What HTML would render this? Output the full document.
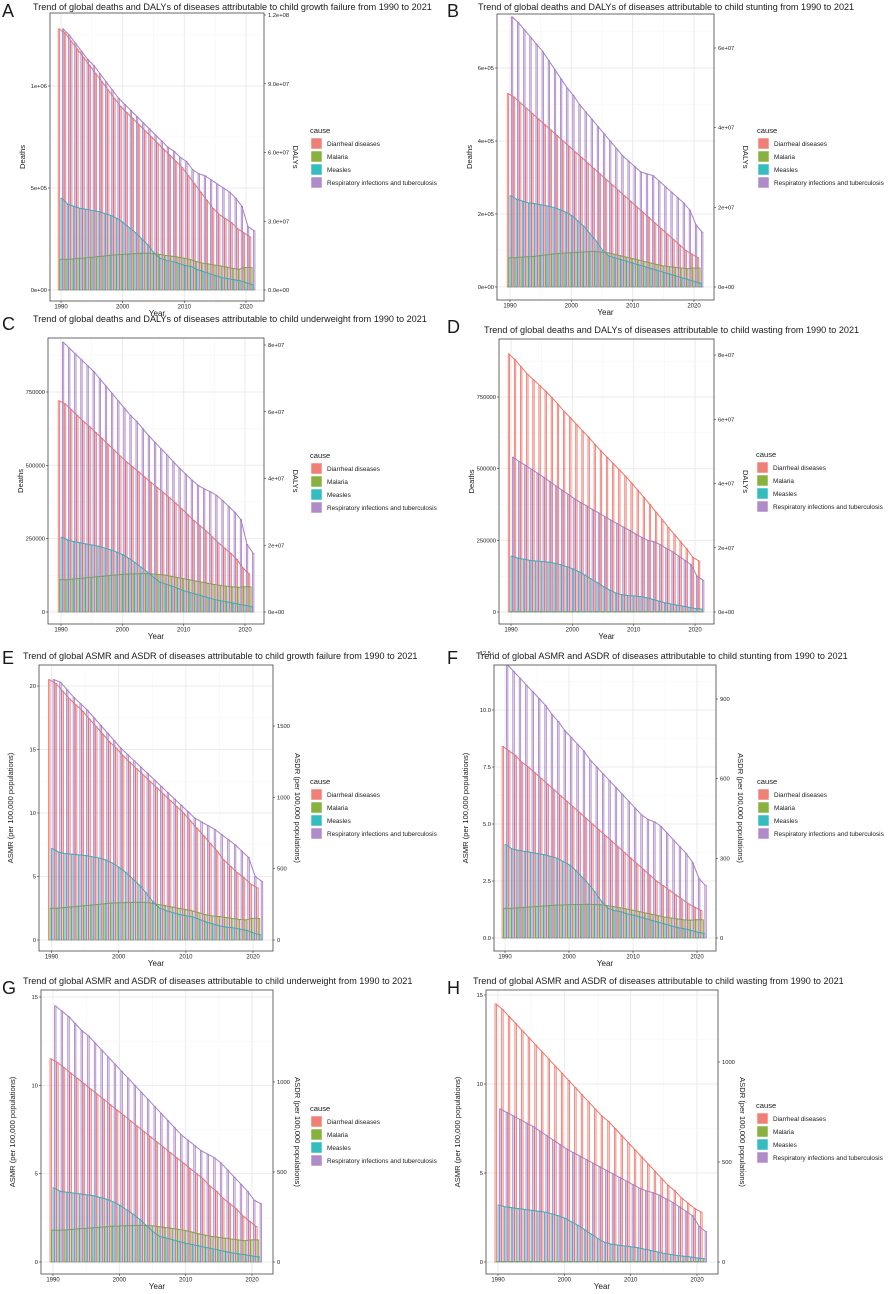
<!DOCTYPE html>
<html><head><meta charset="utf-8"><style>
html,body{margin:0;padding:0;background:#fff;}
svg{display:block;font-family:"Liberation Sans",sans-serif;}
</style></head><body>
<svg id="fig" width="890" height="1294" viewBox="0 0 890 1294"></svg>
<script>
const years=[1990,1991,1992,1993,1994,1995,1996,1997,1998,1999,2000,2001,2002,2003,2004,2005,2006,2007,2008,2009,2010,2011,2012,2013,2014,2015,2016,2017,2018,2019,2020,2021];
const causes=["Diarrheal diseases","Malaria","Measles","Respiratory infections and tuberculosis"];
const colors=["#EE7268","#7CA82A","#1FB5B8","#A67EC4"];
const xTicks=[1990,2000,2010,2020];
// Panel A (deaths, x1e5)
const aDiarrheal=[12.8,12.6,12.2,11.8,11.4,11.0,10.6,10.2,9.8,9.4,9.0,8.7,8.4,8.1,7.8,7.5,7.2,6.9,6.6,6.3,6.0,5.6,5.2,4.8,4.4,4.0,3.7,3.5,3.3,3.0,2.8,2.6];
const aMalaria=[1.5,1.5,1.52,1.55,1.57,1.6,1.63,1.66,1.7,1.72,1.74,1.76,1.78,1.8,1.8,1.78,1.75,1.7,1.66,1.62,1.56,1.5,1.4,1.32,1.28,1.22,1.18,1.12,1.06,1.02,1.1,1.1];
const aMeasles=[4.5,4.2,4.1,4.0,3.95,3.9,3.85,3.75,3.65,3.5,3.3,3.05,2.8,2.5,2.2,1.8,1.55,1.45,1.4,1.3,1.2,1.15,1.0,0.9,0.8,0.7,0.6,0.55,0.5,0.45,0.35,0.25];
const aRespiratory=[12.8,12.5,12.1,11.7,11.3,11.0,10.6,10.2,9.8,9.4,9.1,8.8,8.5,8.2,7.9,7.6,7.3,7.0,6.8,6.5,6.3,5.9,5.7,5.6,5.4,5.2,5.0,4.8,4.5,4.1,3.1,2.9];
// Panel B (deaths, x1e5)
const bDiarrheal=[5.3,5.2,5.05,4.9,4.75,4.6,4.45,4.3,4.15,4.0,3.85,3.7,3.55,3.4,3.25,3.1,2.95,2.8,2.65,2.5,2.35,2.2,2.05,1.9,1.75,1.6,1.45,1.3,1.15,1.0,0.9,0.8];
const bMalaria=[0.8,0.8,0.82,0.83,0.84,0.86,0.88,0.9,0.92,0.93,0.94,0.95,0.96,0.97,0.97,0.96,0.94,0.9,0.86,0.82,0.78,0.74,0.7,0.66,0.62,0.58,0.56,0.54,0.52,0.5,0.52,0.52];
const bMeasles=[2.5,2.4,2.35,2.3,2.28,2.25,2.22,2.18,2.12,2.05,1.95,1.8,1.65,1.45,1.25,1.0,0.85,0.8,0.75,0.7,0.65,0.6,0.55,0.5,0.45,0.4,0.35,0.3,0.25,0.2,0.15,0.1];
const bRespiratory=[7.4,7.25,7.05,6.85,6.65,6.45,6.2,5.95,5.7,5.45,5.25,5.0,4.8,4.6,4.4,4.2,4.0,3.8,3.6,3.45,3.3,3.15,3.1,3.05,2.9,2.75,2.6,2.45,2.3,2.1,1.7,1.5];
// Panel C (deaths, thousands)
const cDiarrheal=[720,710,690,670,650,632,612,592,572,552,532,512,495,478,460,442,425,408,390,372,352,332,312,294,276,256,236,218,200,180,150,130];
const cMalaria=[110,110,112,114,116,118,120,122,124,126,128,129,130,131,131,130,128,126,122,118,114,110,106,102,98,94,91,88,86,84,86,86];
const cMeasles=[255,245,240,236,232,228,224,218,212,204,195,182,168,152,136,118,102,95,88,80,72,66,60,54,48,42,38,34,30,26,22,18];
const cRespiratory=[920,900,880,860,840,820,795,770,745,720,695,670,650,625,600,578,556,535,512,490,470,450,432,420,410,398,380,360,340,315,230,200];
// Panel D (deaths, thousands)
const dDiarrheal=[900,880,855,830,810,790,770,748,725,700,678,655,632,610,585,562,540,518,496,474,450,425,400,375,348,322,295,270,245,220,190,178];
const dMalaria=[1,1,1,1,1,1,1,1,1,1,1,1,1,1,1,1,1,1,1,1,1,1,1,1,1,1,1,1,1,1,1,1];
const dMeasles=[195,188,184,180,178,176,174,170,165,158,150,140,128,115,102,88,76,66,60,57,56,54,50,44,38,32,28,24,20,16,12,10];
const dRespiratory=[540,525,512,498,484,470,455,440,425,410,395,382,370,357,345,332,320,308,296,285,272,260,250,245,235,222,210,195,180,165,125,110];
// Panel E (ASMR)
const eDiarrheal=[20.5,20.2,19.6,19.0,18.5,18.0,17.4,16.8,16.2,15.6,15.1,14.5,14.0,13.5,13.0,12.5,12.0,11.5,11.0,10.5,10.0,9.4,8.8,8.2,7.6,7.0,6.3,5.8,5.3,4.9,4.4,4.1];
const eMalaria=[2.5,2.5,2.55,2.6,2.65,2.7,2.75,2.8,2.85,2.9,2.92,2.94,2.95,2.96,2.96,2.9,2.8,2.7,2.6,2.5,2.4,2.3,2.15,2.0,1.9,1.85,1.78,1.7,1.62,1.58,1.7,1.7];
const eMeasles=[7.2,6.9,6.8,6.75,6.7,6.65,6.55,6.45,6.3,6.05,5.7,5.3,4.8,4.3,3.7,3.0,2.5,2.3,2.15,2.0,1.9,1.8,1.6,1.4,1.25,1.1,1.0,0.95,0.85,0.75,0.55,0.4];
const eRespiratory=[20.5,20.3,19.7,19.1,18.6,18.1,17.5,16.9,16.3,15.7,15.1,14.6,14.1,13.6,13.1,12.6,12.1,11.6,11.1,10.6,10.1,9.6,9.3,9.0,8.7,8.3,7.9,7.5,7.0,6.5,5.0,4.6];
// Panel F (ASMR)
const fDiarrheal=[8.4,8.2,8.0,7.7,7.5,7.25,7.0,6.75,6.5,6.25,6.0,5.75,5.5,5.25,5.0,4.75,4.5,4.25,4.0,3.75,3.5,3.25,3.0,2.75,2.5,2.3,2.1,1.9,1.7,1.5,1.35,1.2];
const fMalaria=[1.3,1.3,1.32,1.34,1.36,1.38,1.4,1.42,1.44,1.45,1.46,1.47,1.47,1.48,1.47,1.46,1.42,1.38,1.33,1.28,1.22,1.16,1.1,1.04,0.98,0.92,0.88,0.84,0.8,0.78,0.8,0.8];
const fMeasles=[4.1,3.9,3.85,3.8,3.75,3.7,3.65,3.58,3.5,3.35,3.2,2.95,2.65,2.35,2.0,1.6,1.3,1.2,1.15,1.05,1.0,0.92,0.84,0.76,0.68,0.6,0.52,0.45,0.4,0.33,0.25,0.2];
const fRespiratory=[12.0,11.7,11.4,11.1,10.8,10.5,10.2,9.8,9.5,9.1,8.8,8.5,8.2,7.8,7.5,7.2,6.9,6.6,6.3,6.0,5.7,5.4,5.2,5.1,4.9,4.6,4.3,4.0,3.7,3.3,2.6,2.3];
// Panel G (ASMR)
const gDiarrheal=[11.5,11.3,11.0,10.7,10.4,10.1,9.8,9.5,9.2,8.9,8.6,8.3,8.0,7.7,7.4,7.1,6.8,6.5,6.2,5.9,5.6,5.3,5.0,4.7,4.3,4.0,3.6,3.3,3.0,2.6,2.3,2.0];
const gMalaria=[1.8,1.8,1.82,1.85,1.88,1.9,1.93,1.96,1.99,2.02,2.04,2.05,2.06,2.07,2.07,2.05,2.0,1.95,1.9,1.85,1.78,1.7,1.6,1.52,1.45,1.4,1.35,1.3,1.25,1.2,1.25,1.25];
const gMeasles=[4.2,4.0,3.95,3.9,3.85,3.8,3.75,3.65,3.55,3.4,3.2,2.95,2.7,2.4,2.05,1.7,1.45,1.35,1.25,1.15,1.05,0.98,0.9,0.82,0.74,0.66,0.58,0.5,0.45,0.4,0.33,0.28];
const gRespiratory=[14.5,14.2,13.9,13.5,13.1,12.8,12.4,12.0,11.6,11.2,10.8,10.4,10.0,9.6,9.2,8.8,8.4,8.0,7.6,7.2,6.9,6.6,6.3,6.1,5.9,5.6,5.2,4.8,4.4,4.0,3.5,3.3];
// Panel H (ASMR)
const hDiarrheal=[14.5,14.2,13.8,13.4,13.0,12.6,12.2,11.8,11.4,11.0,10.6,10.2,9.8,9.4,9.0,8.6,8.2,7.9,7.5,7.1,6.7,6.3,5.9,5.5,5.1,4.7,4.3,4.0,3.6,3.3,3.0,2.8];
const hMalaria=[0.02,0.02,0.02,0.02,0.02,0.02,0.02,0.02,0.02,0.02,0.02,0.02,0.02,0.02,0.02,0.02,0.02,0.02,0.02,0.02,0.02,0.02,0.02,0.02,0.02,0.02,0.02,0.02,0.02,0.02,0.02,0.02];
const hMeasles=[3.2,3.1,3.05,3.0,2.95,2.9,2.85,2.8,2.7,2.6,2.45,2.25,2.05,1.8,1.55,1.3,1.1,1.0,0.95,0.9,0.85,0.8,0.72,0.64,0.56,0.48,0.42,0.36,0.32,0.28,0.22,0.18];
const hRespiratory=[8.6,8.4,8.2,8.0,7.8,7.6,7.35,7.1,6.85,6.6,6.35,6.15,5.95,5.75,5.55,5.35,5.15,4.95,4.75,4.55,4.35,4.15,4.0,3.9,3.75,3.55,3.35,3.1,2.85,2.6,2.0,1.7];
// tick values / labels
const aLeftTicks=[0,5,10], aLeftLabels=["0e+00","5e+05","1e+06"];
const aRightTicks=[0,3,6,9,12], aRightLabels=["0.0e+00","3.0e+07","6.0e+07","9.0e+07","1.2e+08"];
const bLeftTicks=[0,2,4,6], bLeftLabels=["0e+00","2e+05","4e+05","6e+05"];
const bRightTicks=[0,2,4,6], bRightLabels=["0e+00","2e+07","4e+07","6e+07"];
const cLeftTicks=[0,250,500,750], cLeftLabels=["0","250000","500000","750000"];
const cRightTicks=[0,2,4,6,8], cRightLabels=["0e+00","2e+07","4e+07","6e+07","8e+07"];
const dLeftTicks=[0,250,500,750], dLeftLabels=["0","250000","500000","750000"];
const dRightTicks=[0,2,4,6,8], dRightLabels=["0e+00","2e+07","4e+07","6e+07","8e+07"];
const eLeftTicks=[0,5,10,15,20], eLeftLabels=["0","5","10","15","20"];
const eRightTicks=[0,500,1000,1500], eRightLabels=["0","500","1000","1500"];
const fLeftTicks=[0,2.5,5,7.5,10,12.5], fLeftLabels=["0.0","2.5","5.0","7.5","10.0","12.5"];
const fRightTicks=[0,300,600,900], fRightLabels=["0","300","600","900"];
const gLeftTicks=[0,5,10,15], gLeftLabels=["0","5","10","15"];
const gRightTicks=[0,500,1000], gRightLabels=["0","500","1000"];
const hLeftTicks=[0,5,10,15], hLeftLabels=["0","5","10","15"];
const hRightTicks=[0,500,1000], hRightLabels=["0","500","1000"];

const NS="http://www.w3.org/2000/svg";
const svg=document.getElementById("fig");
function mk(tag,attrs,parent){const e=document.createElementNS(NS,tag);for(const k in attrs)e.setAttribute(k,attrs[k]);(parent||svg).appendChild(e);return e;}
function txt(x,y,s,size,anchor,parent,rot){const t=mk("text",{x:x,y:y,"font-size":size,"text-anchor":anchor||"start",fill:"#1a1a1a"},parent);if(rot)t.setAttribute("transform",`rotate(${rot} ${x} ${y})`);t.textContent=s;return t;}

const panels=[
{id:"a",letter:"A",lx:2,ly:17,tx:33,ty:10,title:"Trend of global deaths and DALYs of diseases attributable to child growth failure from 1990 to 2021",
 L:50,R:264,T:13,B:301,x0:61,x1:246,y0:290,refV:10,refY:86,rRefV:12,rRefY:15,lt:aLeftTicks,ll:aLeftLabels,rt:aRightTicks,rl:aRightLabels,
 yl:"Deaths",y2:"DALYs",legX:310,legY:130,data:[aDiarrheal,aMalaria,aMeasles,aRespiratory]},
{id:"b",letter:"B",lx:447,ly:17,tx:478,ty:10,title:"Trend of global deaths and DALYs of diseases attributable to child stunting from 1990 to 2021",
 L:497,R:714,T:14,B:300,x0:510,x1:694,y0:287,refV:6,refY:68,rRefV:6,rRefY:48,lt:bLeftTicks,ll:bLeftLabels,rt:bRightTicks,rl:bRightLabels,
 yl:"Deaths",y2:"DALYs",legX:757,legY:130,data:[bDiarrheal,bMalaria,bMeasles,bRespiratory]},
{id:"c",letter:"C",lx:2,ly:330,tx:33,ty:322,title:"Trend of global deaths and DALYs of diseases attributable to child underweight from 1990 to 2021",
 L:48,R:264,T:338,B:624,x0:61,x1:245,y0:612,refV:750,refY:392,rRefV:8,rRefY:345,lt:cLeftTicks,ll:cLeftLabels,rt:cRightTicks,rl:cRightLabels,
 yl:"Deaths",y2:"DALYs",legX:310,legY:455,data:[cDiarrheal,cMalaria,cMeasles,cRespiratory]},
{id:"d",letter:"D",lx:447,ly:333,tx:484,ty:333,title:"Trend of global deaths and DALYs of diseases attributable to child wasting from 1990 to 2021",
 L:499,R:714,T:339,B:624,x0:511,x1:695,y0:612,refV:750,refY:397,rRefV:8,rRefY:355,lt:dLeftTicks,ll:dLeftLabels,rt:dRightTicks,rl:dRightLabels,
 yl:"Deaths",y2:"DALYs",legX:756,legY:454,data:[dDiarrheal,dMalaria,dMeasles,dRespiratory]},
{id:"e",letter:"E",lx:2,ly:664,tx:23,ty:659,title:"Trend of global ASMR and ASDR of diseases attributable to child growth failure from 1990 to 2021",
 L:39,R:273,T:665,B:951,x0:51.5,x1:253,y0:940,refV:20,refY:686,rRefV:1500,rRefY:726,lt:eLeftTicks,ll:eLeftLabels,rt:eRightTicks,rl:eRightLabels,
 yl:"ASMR (per 100,000 populations)",y2:"ASDR (per 100,000 populations)",legX:310,legY:781,data:[eDiarrheal,eMalaria,eMeasles,eRespiratory]},
{id:"f",letter:"F",lx:447,ly:664,tx:476,ty:659,title:"Trend of global ASMR and ASDR of diseases attributable to child stunting from 1990 to 2021",
 L:494,R:716,T:665,B:951,x0:505,x1:697,y0:938,refV:12.5,refY:653,rRefV:900,rRefY:699,lt:fLeftTicks,ll:fLeftLabels,rt:fRightTicks,rl:fRightLabels,
 yl:"ASMR (per 100,000 populations)",y2:"ASDR (per 100,000 populations)",legX:757,legY:781,data:[fDiarrheal,fMalaria,fMeasles,fRespiratory]},
{id:"g",letter:"G",lx:2,ly:994,tx:23,ty:984,title:"Trend of global ASMR and ASDR of diseases attributable to child underweight from 1990 to 2021",
 L:41,R:273,T:990,B:1274,x0:53,x1:252,y0:1262,refV:15,refY:997,rRefV:1000,rRefY:1082,lt:gLeftTicks,ll:gLeftLabels,rt:gRightTicks,rl:gRightLabels,
 yl:"ASMR (per 100,000 populations)",y2:"ASDR (per 100,000 populations)",legX:310,legY:1108,data:[gDiarrheal,gMalaria,gMeasles,gRespiratory]},
{id:"h",letter:"H",lx:447,ly:994,tx:473,ty:984,title:"Trend of global ASMR and ASDR of diseases attributable to child wasting from 1990 to 2021",
 L:486,R:718,T:990,B:1274,x0:498,x1:697,y0:1262,refV:15,refY:995,rRefV:1000,rRefY:1062,lt:hLeftTicks,ll:hLeftLabels,rt:hRightTicks,rl:hRightLabels,
 yl:"ASMR (per 100,000 populations)",y2:"ASDR (per 100,000 populations)",legX:756,legY:1105,data:[hDiarrheal,hMalaria,hMeasles,hRespiratory]}
];

panels.forEach(p=>{
  const g=mk("g",{});
  
  
  const xs=yr=>p.x0+(yr-1990)*(p.x1-p.x0)/30;
  const ys=v=>p.y0-v*(p.y0-p.refY)/p.refV;
  const ys2=v=>p.y0-v*(p.y0-p.rRefY)/p.rRefV;
  const lt=txt(p.lx,p.ly,p.letter,18,"start",g);
  
  
  const tt=txt(p.tx,p.ty,p.title,9.1,"start",g);
  
  
  const cp="clip-"+p.id;
  const cl=mk("clipPath",{id:cp},g);mk("rect",{x:p.L,y:p.T,width:p.R-p.L,height:p.B-p.T},cl);
  const grid=mk("g",{"clip-path":`url(#${cp})`},g);
  
  
  xTicks.forEach((t,i)=>{
    mk("line",{x1:xs(t),x2:xs(t),y1:p.T,y2:p.B,stroke:"#ebebeb","stroke-width":1},grid);
    mk("line",{x1:xs(t+5),x2:xs(t+5),y1:p.T,y2:p.B,stroke:"#f5f5f5","stroke-width":0.6},grid);
  });
  mk("line",{x1:xs(1985),x2:xs(1985),y1:p.T,y2:p.B,stroke:"#f5f5f5","stroke-width":0.6},grid);
  const step=p.lt[1]-p.lt[0];
  p.lt.forEach(t=>{
    mk("line",{x1:p.L,x2:p.R,y1:ys(t),y2:ys(t),stroke:"#ebebeb","stroke-width":1},grid);
    mk("line",{x1:p.L,x2:p.R,y1:ys(t+step/2),y2:ys(t+step/2),stroke:"#f5f5f5","stroke-width":0.6},grid);
  });
  const bw=(p.x1-p.x0)/30*0.9/4;
  const plot=mk("g",{"clip-path":`url(#${cp})`},g);
  p.data.forEach((arr,si)=>{
    const sg=mk("g",{},plot);
    
    
    const pts=[];
    arr.forEach((v,i)=>{
      const cx=xs(years[i])-2*bw+si*bw+bw/2;
      const y=ys(v);
      const r=mk("rect",{x:cx-bw/2,y:y,width:bw,height:Math.max(0.3,p.y0-y),fill:colors[si],"fill-opacity":0.12,stroke:colors[si],"stroke-width":0.8},sg);
      
      
      pts.push(cx.toFixed(2)+","+y.toFixed(2));
    });
    const ln=mk("polyline",{points:pts.join(" "),fill:"none",stroke:colors[si],"stroke-width":1},plot);
    
    
  });
  const bd=mk("rect",{x:p.L,y:p.T,width:p.R-p.L,height:p.B-p.T,fill:"none",stroke:"#444","stroke-width":0.8},g);
  
  
  const xa=mk("g",{},g);
  
  
  xTicks.forEach(t=>{
    mk("line",{x1:xs(t),x2:xs(t),y1:p.B,y2:p.B+2,stroke:"#333","stroke-width":0.6},xa);
    txt(xs(t),p.B+7.5,String(t),6,"middle",xa);
  });
  const xt=txt((p.L+p.R)/2,p.B+15,"Year",8,"middle",g);
  
  
  const la=mk("g",{},g);
  
  
  p.lt.forEach((t,i)=>{
    mk("line",{x1:p.L-2,x2:p.L,y1:ys(t),y2:ys(t),stroke:"#333","stroke-width":0.6},la);
    txt(p.L-3,ys(t)+2,p.ll[i],5.8,"end",la);
  });
  const ylx=p.yl.length>10?p.L-26:p.L-25;
  const yt=txt(ylx,(p.T+p.B)/2,p.yl,7.6,"middle",g,-90);
  
  
  const ra=mk("g",{},g);
  
  
  p.rt.forEach((t,i)=>{
    mk("line",{x1:p.R,x2:p.R+2,y1:ys2(t),y2:ys2(t),stroke:"#333","stroke-width":0.6},ra);
    txt(p.R+4,ys2(t)+2,p.rl[i],5.8,"start",ra);
  });
  const y2x=p.y2.length>10?p.R+22:p.R+29;
  const yt2=txt(y2x,(p.T+p.B)/2,p.y2,7.6,"middle",g,90);
  
  
  const lg=mk("g",{},g);
  
  
  txt(p.legX,p.legY+3,"cause",7.6,"start",lg);
  causes.forEach((c,i)=>{
    const ey=p.legY+8+i*13;
    const en=mk("g",{},lg);
    
    
    mk("rect",{x:p.legX+1,y:ey,width:11,height:11,fill:colors[i],"fill-opacity":0.9,stroke:"#fff","stroke-width":0.5},en);
    txt(p.legX+17,ey+8,c,6.4,"start",en);
  });
});
</script>
</body></html>
